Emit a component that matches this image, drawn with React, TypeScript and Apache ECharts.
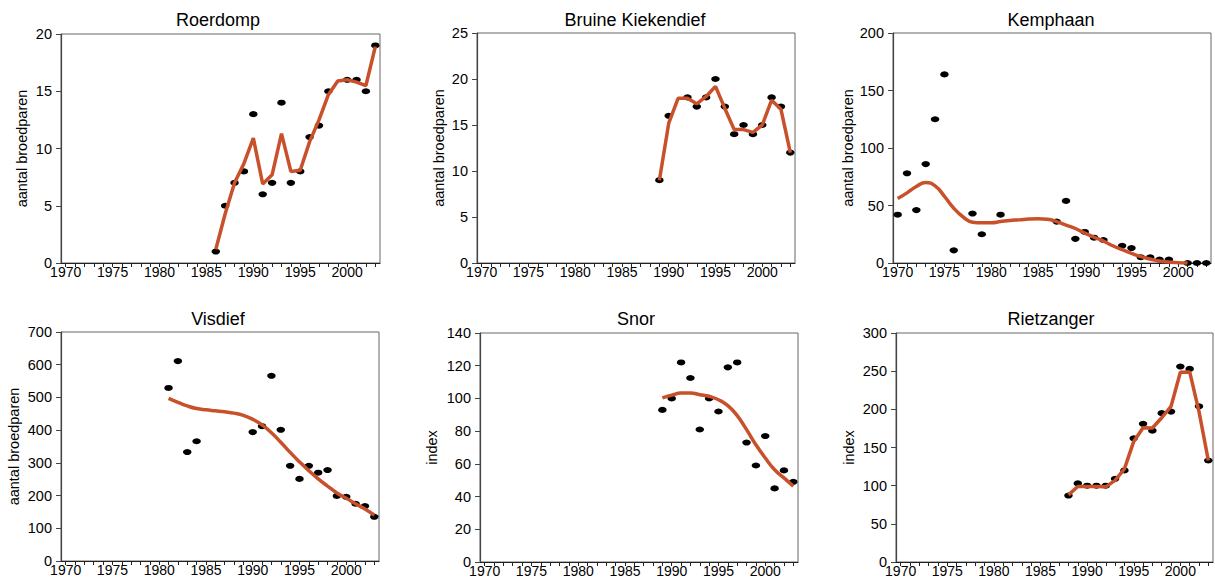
import React, { useEffect, useRef } from "react";
import * as echarts from "echarts";

const YEARS = ["1970","1971","1972","1973","1974","1975","1976","1977","1978","1979","1980","1981","1982","1983","1984","1985","1986","1987","1988","1989","1990","1991","1992","1993","1994","1995","1996","1997","1998","1999","2000","2001","2002","2003"];

const TITLES = ["Roerdomp", "Bruine Kiekendief", "Kemphaan", "Visdief", "Snor", "Rietzanger"];
const YNAMES = ["aantal broedparen", "aantal broedparen", "aantal broedparen", "aantal broedparen", "index", "index"];
const YMAX = [20, 25, 200, 700, 140, 300];
const YSTEP = [5, 5, 50, 100, 20, 50];
const SMOOTH = [false, false, true, true, true, false];

// Roerdomp
const roerdompDotYears = [1986,1987,1988,1989,1990,1991,1992,1993,1994,1995,1996,1997,1998,2000,2001,2002,2003];
const roerdompDots = [1,5,7,8,13,6,7,14,7,8,11,12,15,16,16,15,19];
const roerdompTrendYears = [1986,1987,1988,1989,1990,1991,1992,1993,1994,1995,1996,1997,1998,1999,2000,2001,2002,2003];
const roerdompTrend = [1.2,4.3,7.0,8.7,10.9,6.9,7.7,11.3,8.0,8.1,10.6,12.5,14.7,15.9,16.0,15.8,15.5,18.9];

// Bruine Kiekendief
const kiekDotYears = [1989,1990,1992,1993,1994,1995,1996,1997,1998,1999,2000,2001,2002,2003];
const kiekDots = [9,16,18,17,18,20,17,14,15,14,15,18,17,12];
const kiekTrendYears = [1989,1990,1991,1992,1993,1994,1995,1996,1997,1998,1999,2000,2001,2002,2003];
const kiekTrend = [9.0,15.2,17.9,17.9,17.3,18.1,19.2,16.8,14.5,14.5,14.2,15.0,17.7,16.7,12.0];

// Kemphaan
const kempDotYears = [1970,1971,1972,1973,1974,1975,1976,1978,1979,1981,1987,1988,1989,1990,1991,1992,1994,1995,1996,1997,1998,1999,2001,2002,2003];
const kempDots = [42,78,46,86,125,164,11,43,25,42,36,54,21,27,22,20,15,13,5,5,3,3,0,0,0];
const kempTrendYears = [1970,1971,1972,1973,1974,1975,1976,1977,1978,1979,1980,1981,1982,1983,1984,1985,1986,1987,1988,1989,1990,1991,1992,1993,1994,1995,1996,1997,1998,1999,2000,2001];
const kempTrend = [56,61,66.5,70,67,58,47.6,40,35.5,35,35,36,37,37.5,38.2,38.5,38,36,33,30,26,22.4,19,15,11.6,8.4,5.5,3.5,1.7,0.9,0.3,0];

// Visdief
const visDotYears = [1981,1982,1983,1984,1990,1991,1992,1993,1994,1995,1996,1997,1998,1999,2000,2001,2002,2003];
const visDots = [529,611,333,366,394,412,566,401,291,251,291,270,278,199,196,175,168,135];
const visTrendYears = [1981,1982,1983,1984,1985,1986,1987,1988,1989,1990,1991,1992,1993,1994,1995,1996,1997,1998,1999,2000,2001,2002,2003];
const visTrend = [497,485,474,466,462,459,456,452,445,433,416,392,363,332,303,276,251,229,208,192,175,159,140];

// Snor
const snorDotYears = [1989,1990,1991,1992,1993,1994,1995,1996,1997,1998,1999,2000,2001,2002,2003];
const snorDots = [93,100,122,112.5,81,100,92,119,122,73,59,77,45,56,49];
const snorTrendYears = [1989,1990,1991,1992,1993,1994,1995,1996,1997,1998,1999,2000,2001,2002,2003];
const snorTrend = [100.3,102,103.3,103.3,102.3,101.3,99.2,95.6,89.5,80.9,71.7,63.6,56.4,51.4,46.3];

// Rietzanger
const rietDotYears = [1988,1989,1990,1991,1992,1993,1994,1995,1996,1997,1998,1999,2000,2001,2002,2003];
const rietDots = [87,103,100,100,100,109,120,162,181,172,195,197,256,253,204,133];
const rietTrendYears = [1988,1989,1990,1991,1992,1993,1994,1995,1996,1997,1998,1999,2000,2001,2002,2003];
const rietTrend = [88,99,99,99,98.5,107,122,158,176,175.5,189,204,248.5,249,197,133];

const DOTS = [
  [roerdompDotYears, roerdompDots],
  [kiekDotYears, kiekDots],
  [kempDotYears, kempDots],
  [visDotYears, visDots],
  [snorDotYears, snorDots],
  [rietDotYears, rietDots],
];
const TRENDS = [
  [roerdompTrendYears, roerdompTrend],
  [kiekTrendYears, kiekTrend],
  [kempTrendYears, kempTrend],
  [visTrendYears, visTrend],
  [snorTrendYears, snorTrend],
  [rietTrendYears, rietTrend],
];

// layout
const GRIDS = [
  { left: 61, top: 34, width: 319, height: 229 },
  { left: 477, top: 33, width: 318, height: 230 },
  { left: 893, top: 33, width: 318, height: 230 },
  { left: 61, top: 332, width: 318, height: 229 },
  { left: 480, top: 333, width: 318, height: 229 },
  { left: 896, top: 333, width: 317, height: 229 },
];
const TITLE_POS = [
  { x: 218, y: 11 },
  { x: 635, y: 11 },
  { x: 1051, y: 11 },
  { x: 218, y: 310 },
  { x: 636, y: 310 },
  { x: 1051, y: 310 },
];
const NAME_GAP = [32, 31, 38, 40, 41, 40];

const FONT = "'Liberation Sans', Arial, sans-serif";
const LINE_COLOR = "#C8502A";

function pairs(years: number[], vals: number[]) {
  return years.map((y, i) => [String(y), vals[i]]);
}

export default function App() {
  const ref = useRef<HTMLDivElement>(null);
  useEffect(() => {
    if (!ref.current) return;
    const chart = echarts.init(ref.current, null, { renderer: "svg" });
    const grid: any[] = [];
    const xAxis: any[] = [];
    const yAxis: any[] = [];
    const series: any[] = [];
    const title: any[] = [];
    for (let i = 0; i < 6; i++) {
      grid.push({ ...GRIDS[i], show: true, borderColor: "#666", borderWidth: 1, backgroundColor: "transparent" });
      title.push({
        text: TITLES[i],
        left: TITLE_POS[i].x,
        top: TITLE_POS[i].y,
        textAlign: "center",
        padding: 0,
        textStyle: { fontFamily: FONT, fontSize: 18, fontWeight: "normal", color: "#000" },
      });
      xAxis.push({
        type: "category",
        gridIndex: i,
        data: YEARS,
        boundaryGap: true,
        axisLine: { lineStyle: { color: "#222", width: 1.2 } },
        axisTick: { show: true, interval: 0, alignWithLabel: true, length: 4, lineStyle: { color: "#222" } },
        axisLabel: {
          interval: (_idx: number, value: string) => Number(value) % 5 === 0,
          fontFamily: FONT,
          fontSize: 14,
          color: "#000",
          margin: 2,
        },
        splitLine: { show: false },
      });
      yAxis.push({
        type: "value",
        gridIndex: i,
        min: 0,
        max: YMAX[i],
        interval: YSTEP[i],
        name: YNAMES[i],
        nameLocation: "middle",
        nameGap: NAME_GAP[i],
        nameTextStyle: { fontFamily: FONT, fontSize: 14.5, color: "#000" },
        axisLine: { show: true, lineStyle: { color: "#444", width: 1.2 } },
        axisTick: { show: true, length: 5, lineStyle: { color: "#444" } },
        axisLabel: { fontFamily: FONT, fontSize: 14.5, color: "#000", margin: 9 },
        splitLine: { show: false },
      });
      series.push({
        type: "scatter",
        xAxisIndex: i,
        yAxisIndex: i,
        data: pairs(DOTS[i][0], DOTS[i][1]),
        symbol: "circle",
        symbolSize: [8.5, 6],
        itemStyle: { color: "#000", opacity: 1 },
        z: 2,
      });
      series.push({
        type: "line",
        xAxisIndex: i,
        yAxisIndex: i,
        data: pairs(TRENDS[i][0], TRENDS[i][1]),
        smooth: SMOOTH[i],
        showSymbol: false,
        symbol: "none",
        lineStyle: { color: LINE_COLOR, width: 3.5 },
        z: 3,
      });
    }
    chart.setOption({
      animation: false,
      backgroundColor: "#fff",
      title,
      grid,
      xAxis,
      yAxis,
      series,
    });
    return () => chart.dispose();
  }, []);
  return (
    <div
      ref={ref}
      style={{ position: "absolute", left: 0, top: 0, width: 1215, height: 581 }}
    />
  );
}
